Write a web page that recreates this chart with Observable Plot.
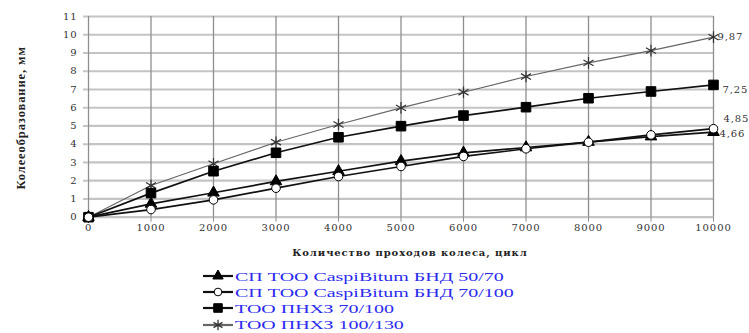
<!DOCTYPE html>
<html><head><meta charset="utf-8">
<script src="https://cdn.jsdelivr.net/npm/d3@7"></script>
<script src="https://cdn.jsdelivr.net/npm/@observablehq/plot@0.6"></script>
<style>
body{margin:0;background:#fff;overflow:hidden;}
#legend{padding-left:203px;padding-top:6px;font-family:"Liberation Serif",serif;}
.row{display:flex;align-items:center;height:16.2px;white-space:nowrap;}
.row svg{flex:none;}
.row span{display:inline-block;color:#2b2bee;font-size:13.4px;line-height:15px;transform:scaleX(1.49);transform-origin:left center;margin-left:1px;}
</style></head><body>
<div id="chart"></div>
<div id="legend"></div>
<script>
// ---- data ----
const passes = [0, 1000, 2000, 3000, 4000, 5000, 6000, 7000, 8000, 9000, 10000];
const yTicks = [0, 1, 2, 3, 4, 5, 6, 7, 8, 9, 10, 11];
const seriesNames = [
  "СП ТОО CaspiBitum  БНД 50/70",
  "СП ТОО CaspiBitum  БНД 70/100",
  "ТОО ПНХЗ 70/100",
  "ТОО ПНХЗ 100/130"
];
const bnd5070   = [0, 0.73, 1.34, 1.96, 2.52, 3.07, 3.53, 3.82, 4.12, 4.42, 4.66];
const bnd70100  = [0, 0.42, 0.95, 1.59, 2.23, 2.78, 3.33, 3.75, 4.11, 4.51, 4.85];
const pnhz70100 = [0, 1.32, 2.52, 3.53, 4.38, 4.99, 5.57, 6.03, 6.52, 6.89, 7.25];
const pnhz100130= [0, 1.74, 2.93, 4.11, 5.08, 5.99, 6.85, 7.71, 8.46, 9.13, 9.87];
const xTitle = "Количество проходов колеса, цикл";
const yTitle = "Колееобразование, мм";

const seriesValues = [bnd5070, bnd70100, pnhz70100, pnhz100130];
const rows = seriesNames.flatMap((name, i) =>
  seriesValues[i].map((v, j) => ({series: name, passes: passes[j], rut: v})));
const lastRows = seriesNames.map((name, i) =>
  ({series: name, passes: passes[passes.length - 1], rut: seriesValues[i][seriesValues[i].length - 1]}));

// ---- styles ----
const styles = [
  {symbol: "triangle", fill: "#000", stroke: "#000", r: 4.3, line: "#111", lw: 1.7, dx: 6, dy: 2},
  {symbol: "circle",   fill: "#fff", stroke: "#000", r: 4.3, line: "#111", lw: 1.7, dx: 10, dy: -10},
  {symbol: "square",   fill: "#000", stroke: "#000", r: 5.4, line: "#111", lw: 1.7, dx: 9, dy: 5},
  {symbol: "asterisk", fill: "none", stroke: "#333", r: 5.5, line: "#666", lw: 1.2, dx: 4, dy: 0}
];
const drawOrder = [3, 2, 0, 1];
const font = "DejaVu Serif";
const by = name => d => d.series === name;

const marks = [
  Plot.gridY(yTicks, {stroke: "#c4c4c4", strokeWidth: 2.2, strokeOpacity: 1}),
  Plot.gridX(passes, {stroke: "#8e8e8e", strokeWidth: 1.3, strokeOpacity: 1}),
  Plot.axisY(yTicks, {tickSize: 5, tickPadding: 6, stroke: "#c4c4c4", strokeWidth: 2, fill: "#333",
    fontSize: 10, fontFamily: font, label: null, tickFormat: d => String(d)}),
  Plot.axisX(passes, {tickSize: 5, tickPadding: 2, stroke: "#8e8e8e", fill: "#333",
    fontSize: 10, fontFamily: font, label: null, tickFormat: d => String(d)})
];
for (const i of drawOrder) {
  const s = styles[i];
  marks.push(Plot.line(rows, {filter: by(seriesNames[i]), x: "passes", y: "rut",
    stroke: s.line, strokeWidth: s.lw}));
}
for (const i of drawOrder) {
  const s = styles[i];
  marks.push(Plot.dot(rows, {filter: by(seriesNames[i]), x: "passes", y: "rut",
    symbol: s.symbol, fill: s.fill, stroke: s.stroke, r: s.r, strokeWidth: s.symbol === "asterisk" ? 1.2 : 1}));
  marks.push(Plot.text(lastRows, {filter: by(seriesNames[i]), x: "passes", y: "rut",
    text: d => d.rut.toFixed(2).replace(".", ","), textAnchor: "start",
    dx: s.dx, dy: s.dy, fontSize: 10, fontFamily: font, fill: "#333"}));
}
marks.push(Plot.text([yTitle], {frameAnchor: "left", textAnchor: "middle", dx: -68, dy: 1, rotate: -90,
  fontSize: 12.5, fontWeight: "bold", fontFamily: "Liberation Serif", fill: "#222"}));
marks.push(Plot.text([xTitle], {frameAnchor: "bottom", lineAnchor: "middle", dy: 36, dx: 9,
  fontSize: 10, fontWeight: "bold", fontFamily: font, fill: "#222"}));

const chart = Plot.plot({
  width: 749,
  height: 262,
  marginTop: 16,
  marginBottom: 45.3,
  marginLeft: 88,
  marginRight: 36,
  style: {background: "#fff", letterSpacing: "0.9px"},
  x: {domain: [0, 10000], axis: null},
  y: {domain: [0, 11], axis: null},
  marks
});
document.getElementById("chart").appendChild(chart);

// ---- legend ----
const legend = document.getElementById("legend");
seriesNames.forEach((name, i) => {
  const s = styles[i];
  const row = document.createElement("div");
  row.className = "row";
  const svg = d3.create("svg").attr("width", 31).attr("height", 16);
  svg.append("line").attr("x1", 0).attr("x2", 30).attr("y1", 8).attr("y2", 8)
    .attr("stroke", s.line).attr("stroke-width", 2.2);
  const sym = {triangle: d3.symbolTriangle, circle: d3.symbolCircle, square: d3.symbolSquare, asterisk: d3.symbolAsterisk}[s.symbol];
  svg.append("path").attr("transform", "translate(15,8)")
    .attr("d", d3.symbol(sym, Math.PI * s.r * s.r * 0.8)())
    .attr("fill", s.fill).attr("stroke", s.stroke).attr("stroke-width", s.symbol === "asterisk" ? 1.3 : 1);
  row.appendChild(svg.node());
  const span = document.createElement("span");
  span.textContent = name;
  row.appendChild(span);
  legend.appendChild(row);
});
</script>
</body></html>
